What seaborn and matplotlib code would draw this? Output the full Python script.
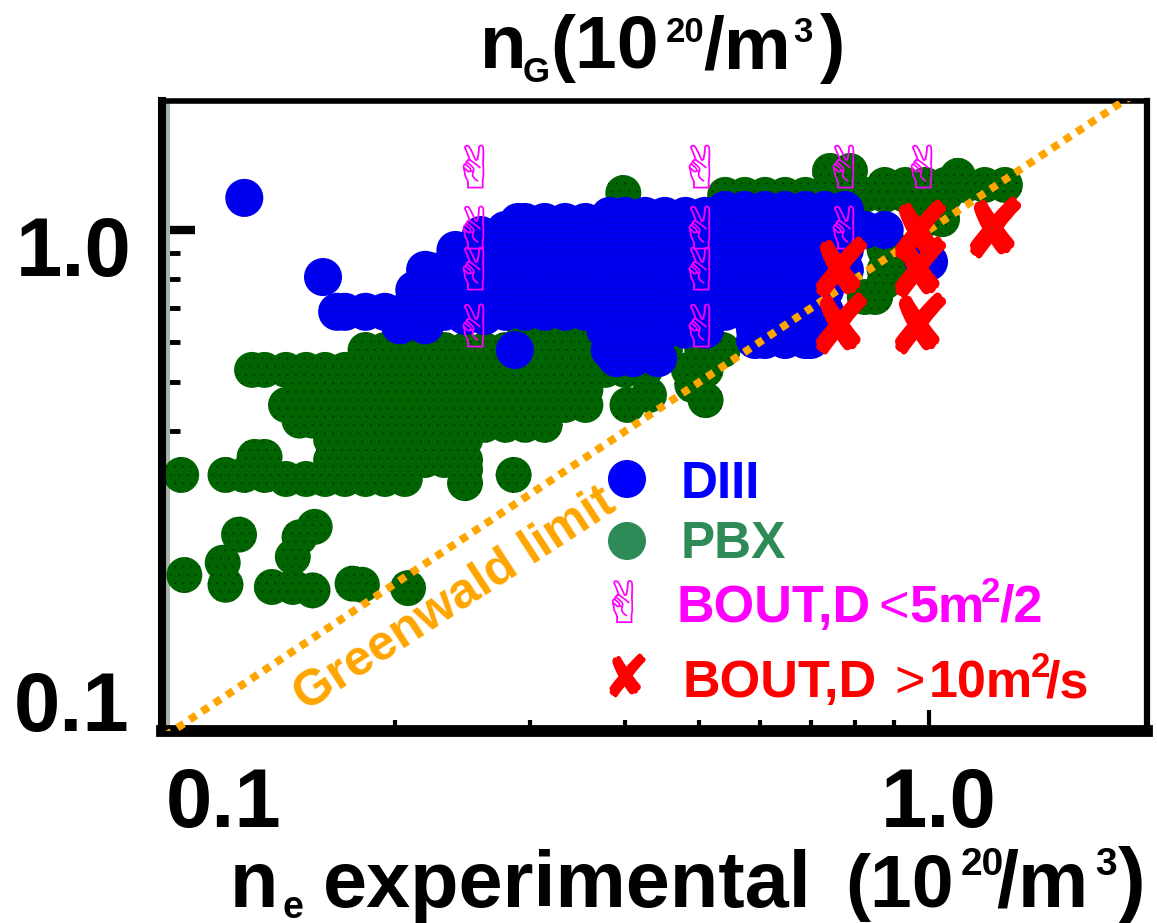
import matplotlib
matplotlib.use('Agg')
import matplotlib.pyplot as plt
import pandas as pd
import seaborn as sns
from matplotlib.font_manager import FontProperties
from matplotlib.path import Path
from matplotlib.textpath import TextPath
from matplotlib.transforms import Affine2D

# values, one row of points per line
pbx_x = [.130, .135, .144, .153, .162, .172, .183, .194, .206, .219, .232, .247, .262, .279, .296, .314, .334, .355, .377, .400, .425, .485, .510,
         .183, .194, .206, .219, .232, .247, .262, .279, .296, .314, .334, .355, .377, .400, .425, .451, .505, .537,
         .222, .296, .314, .334, .355,
         .153, .162, .172, .183, .194, .206, .219, .232, .247, .262, .279, .296, .314, .334, .355,
         .144, .153, .162, .172, .183, .194, .206, .219, .232, .247, .262, .279, .296, .314, .334, .355,
         .403, .430, .510, .490,
         .165, .172, .183, .194, .206, .219, .232, .247, .262, .279, .296, .314,
         .165, .172, .183, .194, .206, .219, .232, .247,
         .165, .172, .183, .194, .206, .219, .232, .247,
         .131, .135,
         .120, .127, .135, .144, .153, .162, .172, .183, .194, .206, .247, .247, .286, .105,
         .125, .106, .119, .120, .157, .150, .147, .138, .147, .156, .176, .181, .208, .095,
         .398, .541, .574, .610, .648, .689, .731, .776, .824, .875, .931, .989, 1.05,
         .742, .788, .875, .931, .989, 1.05, 1.114, 1.183, 1.257, 1.091,
         .989, 1.04, .875, .900, .875, .900, .850, .824, .875,
         .150, .156]
pbx_y = [.529] * 23 + [.579] * 18 + [.834, .635, .635, .635, .635] + [.483] * 15 + [.451] * 16 + \
        [.451, .472, .461, .494] + [.412] * 12 + [.385] * 8 + [.351] * 8 + [.356, .356] + \
        [.328, .328, .328] + [.322] * 7 + [.316, .336, .328, .328] + \
        [.250, .208, .220, .199, .259, .247, .226, .197, .197, .194, .200, .199, .196, .199] + \
        [1.183] + [1.173] * 12 + [1.308, 1.308] + [1.227] * 7 + [1.279] + \
        [1.05, 1.05, .913, .913, .834, .834, .737, .737, .790] + [.420, .420]

diii_x = [.541, .574, .610, .648, .689, .731, .776,
          .382, .400, .425, .451, .480, .509,
          .290, .296, .314, .334, .355, .377,
          .279, .296, .314, .334, .355, .377, .400, .425, .451, .480, .509, .541, .574, .610, .648, .689, .731, .776, .824, .875,
          .240, .262, .279, .296, .314, .334, .355, .377, .400, .425, .451, .480, .509, .541, .574, .610, .648, .689, .731, .776,
          .219, .232, .247, .262, .279, .296, .314, .334, .355, .377, .400, .425, .451, .480, .509, .541, .574, .610, .648, .689, .731, .776,
          .212, .232, .247, .262, .279, .296, .314, .334, .355, .377, .400, .425, .451, .480, .509, .541, .574, .610, .648, .689, .731,
          .168, .172, .183, .194, .206, .219, .232, .247, .262, .279, .296, .314, .334, .355, .377, .400, .425, .451, .480, .509, .541, .574, .610, .648, .689, .731,
          .203, .219, .247, .262,
          .377, .400, .425, .451, .480, .509, .592, .610, .648, .689,
          .592, .610, .648, .689, .700,
          .287, .382, .400, .425,
          .390, .410, .442,
          .127, .161, 1.0, .98, .259]
diii_y = [1.095] * 7 + [1.066] * 6 + [1.037] * 6 + [1.0] * 20 + [.913] * 20 + [.834] * 22 + [.761] * 21 + \
         [.689] * 26 + [.648, .648, .676, .676] + [.635] * 10 + [.606] * 5 + [.579] * 4 + [.558] * 3 + \
         [1.157, .807, .865, .880, .977]

bout_low_x = [.253, .253, .253, .253, .5, .5, .5, .5, .772, .772, .976]
bout_low_y = [1.338, 1.014, .841, .649, 1.338, 1.014, .841, .649, 1.338, 1.014, 1.338]

bout_high_x = [.767, .767, .973, .973, .973, 1.22]
bout_high_y = [.845, .655, 1.0, .845, .655, 1.014]

greenwald_x = [.1, 1.83]
greenwald_y = [.1, 1.83]

W, H = 1157, 923
BLUE = '#0000f0'
GREEN = '#006400'
MAGENTA = '#ff00ff'
ORANGE = '#ffa500'

sns.set_theme(style='white')
plt.rcParams['font.family'] = ['Liberation Sans', 'DejaVu Sans']
plt.rcParams['hatch.linewidth'] = 0.0


def glyph_marker(char, xscale=1.0):
    # centred glyph path so it can be used as a scatter marker
    tp = TextPath((0, 0), char, size=1, prop=FontProperties(family='DejaVu Sans'))
    box = tp.get_extents()
    tr = Affine2D().translate(-(box.x0 + box.x1) / 2, -(box.y0 + box.y1) / 2).scale(xscale, 1)
    return Path(tr.transform(tp.vertices), tp.codes)


def fx(px):
    return px / W


def fy(py):
    return 1 - py / H


def label(px, py, s, size, color='black', weight='bold', **kw):
    # px is the left edge, py the baseline
    fig.text(fx(px), fy(py), s, fontsize=size, color=color, fontweight=weight,
             ha='left', va='baseline', **kw)


hand = glyph_marker('\u270c', 1.05)
cross = glyph_marker('\u2718', 0.95)

fig = plt.figure(figsize=(W / 100, H / 100), dpi=100)
ax = fig.add_axes([fx(162), fy(731), fx(1147) - fx(162), fy(101) - fy(731)])

pbx = pd.DataFrame({'x': pbx_x, 'y': pbx_y})
diii = pd.DataFrame({'x': diii_x, 'y': diii_y})
low = pd.DataFrame({'x': bout_low_x, 'y': bout_low_y})
high = pd.DataFrame({'x': bout_high_x, 'y': bout_high_y})

sns.scatterplot(data=pbx, x='x', y='y', ax=ax, s=670, color=GREEN, linewidth=0, edgecolor='#002800',
                hatch='..', zorder=2)
sns.scatterplot(data=diii, x='x', y='y', ax=ax, s=750, color=BLUE, linewidth=0, edgecolor='#000080',
                hatch='...', zorder=3)
sns.lineplot(x=greenwald_x, y=greenwald_y, ax=ax, color=ORANGE, lw=5.6, linestyle=(0, (1, 0.9)),
             dash_capstyle='butt', estimator=None, sort=False, zorder=4)
sns.scatterplot(data=low, x='x', y='y', ax=ax, s=1195, marker=hand, color=MAGENTA, linewidth=0, zorder=5)
sns.scatterplot(data=high, x='x', y='y', ax=ax, s=2200, marker=cross, color='red', linewidth=3,
                edgecolor='red', zorder=6)

ax.set_xscale('log')
ax.set_yscale('log')
ax.set_xlim(0.0991, 1.929)
ax.set_ylim(0.1023, 1.798)
ax.set_xlabel('')
ax.set_ylabel('')

ax.axvline(0.1009, color='#aab5aa', lw=2.9, zorder=1.5)

ax.set_xticks([1.0])
ax.set_xticks([.2, .3, .4, .5, .6, .7, .8, .9], minor=True)
ax.set_yticks([1.0])
ax.set_yticks([.4, .5, .6, .7, .8, .9], minor=True)
ax.set_xticklabels([])
ax.set_yticklabels([])
ax.set_xticklabels([], minor=True)
ax.set_yticklabels([], minor=True)
ax.tick_params(axis='y', which='major', direction='in', left=True, length=24, width=6, color='black')
ax.tick_params(axis='y', which='minor', direction='in', left=True, length=13, width=3.5, color='black')
ax.tick_params(axis='x', which='major', direction='in', bottom=True, length=15, width=3, color='black')
ax.tick_params(axis='x', which='minor', direction='in', bottom=True, length=8, width=3, color='black')

ax.spines['left'].set_linewidth(5.8)
ax.spines['top'].set_linewidth(4)
ax.spines['right'].set_linewidth(4.5)
ax.spines['bottom'].set_linewidth(8.5)
for sp in ax.spines.values():
    sp.set_color('black')

# tick labels sit away from their ticks in the original
label(16, 276, '1.0', 60)
label(14, 731, '0.1', 60)
label(166, 827, '0.1', 60)
label(881, 827, '1.0', 60)

# top title, pieced together
label(480, 68, 'n', 55)
label(523, 82, 'G', 25)
label(550, 68, '(10', 54)
label(666, 42, '20', 25)
label(703, 68, '/m', 54)
label(793, 42, '3', 25)
label(820, 68, ')', 55)

# x axis title
label(230, 907, 'n', 57)
label(283, 918, 'e', 27)
label(323, 907, 'experimental', 57)
label(845, 907, '(10', 54)
label(961, 875, '20', 28)
label(996, 907, '/m', 57)
label(1095, 875, '3', 28)
label(1118, 907, ')', 60)

# legend
ax.scatter([fx(627), fx(627)], [fy(479), fy(541)], s=750, c=['#0000ff', '#2e8b57'], linewidths=0,
           transform=fig.transFigure, clip_on=False, zorder=7)
ax.scatter([fx(622)], [fy(601)], s=1150, marker=hand, c=MAGENTA, linewidths=0,
           transform=fig.transFigure, clip_on=False, zorder=7)
ax.scatter([fx(627)], [fy(675)], s=1150, marker=cross, c='red', linewidths=1.5, edgecolors='red',
           transform=fig.transFigure, clip_on=False, zorder=7)

label(681, 498, 'DIII', 37, color='#0000ff')
label(681, 558, 'PBX', 37, color='#2e8b57')

label(677, 622, 'BOUT,D', 37.5, color=MAGENTA)
label(878, 622, '<', 37.5, color=MAGENTA, weight='normal')
label(909, 622, '5m', 37.5, color=MAGENTA)
label(981, 602, '2', 25, color=MAGENTA)
label(999, 622, '/2', 37.5, color=MAGENTA)

label(682, 697, 'BOUT,D', 37.5, color='red')
label(894, 697, '>', 37.5, color='red', weight='normal')
label(929, 697, '10m', 37.5, color='red')
label(1031, 677, '2', 25, color='red')
label(1045, 697, '/s', 37.5, color='red')

fig.text(fx(455), fy(600), 'Greenwald limit', fontsize=36, color=ORANGE, fontweight='bold',
         rotation=33, ha='center', va='center', rotation_mode='anchor')

fig.savefig('out.png', dpi=100)
